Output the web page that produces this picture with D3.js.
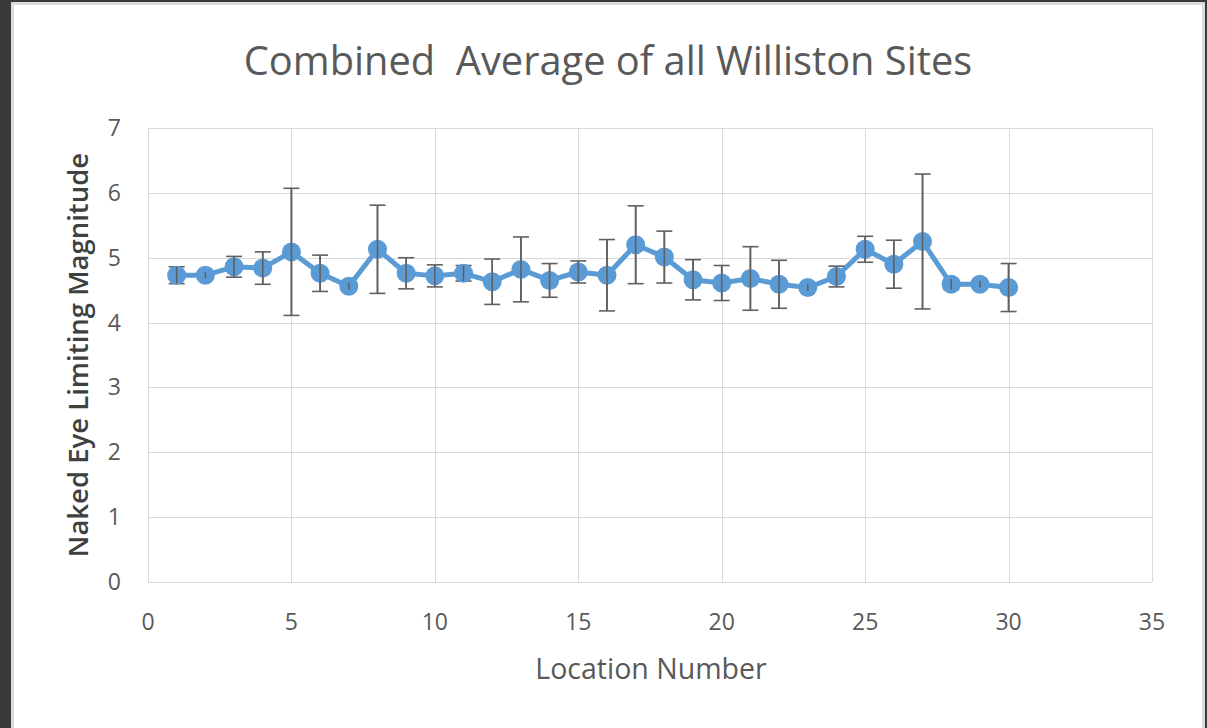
<!DOCTYPE html>
<html>
<head>
<meta charset="utf-8">
<script src="https://cdn.jsdelivr.net/npm/d3@7"></script>
<style>
  html, body {
    margin: 0;
    padding: 0;
    background: #3a3a3a;
  }
  #chart {
    display: block;
  }
  .grid line {
    stroke: #d9d9d9;
    stroke-width: 1px;
  }
  .tick-label {
    font-family: "Open Sans", sans-serif;
    font-size: 23px;
    fill: #595959;
  }
  .title {
    font-family: "Open Sans", sans-serif;
    font-size: 39.8px;
    fill: #595959;
  }
  .axis-title {
    font-family: "Open Sans", sans-serif;
    font-size: 28.5px;
    fill: #595959;
  }
  .axis-title.y {
    font-size: 27.5px;
    font-weight: 600;
    fill: #404040;
  }
  .series path {
    fill: none;
    stroke: #5b9bd5;
    stroke-width: 5px;
    stroke-linejoin: round;
  }
  .series circle {
    fill: #5b9bd5;
  }
  .errors line {
    stroke: #606060;
    stroke-width: 1.6px;
  }
</style>
</head>
<body>
<svg id="chart" width="1207" height="728"></svg>
<script>
// location numbers, averages and +/- error
var locations = [1, 2, 3, 4, 5, 6, 7, 8, 9, 10,
                 11, 12, 13, 14, 15, 16, 17, 18, 19, 20,
                 21, 22, 23, 24, 25, 26, 27, 28, 29, 30];
var magnitudes = [4.73, 4.73, 4.86, 4.84, 5.09, 4.76, 4.56, 5.13, 4.76, 4.72,
                  4.76, 4.63, 4.82, 4.65, 4.78, 4.73, 5.20, 5.01, 4.66, 4.61,
                  4.68, 4.59, 4.54, 4.71, 5.13, 4.90, 5.25, 4.59, 4.59, 4.54];
var errors = [0.13, 0.05, 0.16, 0.25, 0.98, 0.28, 0.05, 0.68, 0.24, 0.17,
              0.12, 0.35, 0.50, 0.26, 0.17, 0.55, 0.60, 0.40, 0.31, 0.27,
              0.49, 0.37, 0.05, 0.16, 0.20, 0.37, 1.04, 0.08, 0.05, 0.37];

var xTicks = [0, 5, 10, 15, 20, 25, 30, 35];
var yTicks = [0, 1, 2, 3, 4, 5, 6, 7];

var titleText = "Combined  Average of all Williston Sites";
var xTitle = "Location Number";
var yTitle = "Naked Eye Limiting Magnitude";

var svg = d3.select("#chart");

// white chart panel inside dark frame
svg.append("rect")
    .attr("x", 12.5).attr("y", 3.5)
    .attr("width", 1191).attr("height", 730)
    .attr("fill", "#ffffff")
    .attr("stroke", "#dcdcdc")
    .attr("stroke-width", 3);

var plot = {left: 148, right: 1152, top: 128, bottom: 582};

var x = d3.scaleLinear().domain([0, 35]).range([plot.left, plot.right]);
var y = d3.scaleLinear().domain([0, 7]).range([plot.bottom, plot.top]);

var grid = svg.append("g").attr("class", "grid");

grid.selectAll(".gx")
    .data(xTicks)
  .enter().append("line")
    .attr("x1", function(d) { return Math.round(x(d)) + 0.5; })
    .attr("x2", function(d) { return Math.round(x(d)) + 0.5; })
    .attr("y1", plot.top)
    .attr("y2", plot.bottom);

grid.selectAll(".gy")
    .data(yTicks)
  .enter().append("line")
    .attr("x1", plot.left)
    .attr("x2", plot.right)
    .attr("y1", function(d) { return Math.round(y(d)) + 0.5; })
    .attr("y2", function(d) { return Math.round(y(d)) + 0.5; });

// tick labels
svg.append("g").selectAll("text")
    .data(yTicks)
  .enter().append("text")
    .attr("class", "tick-label")
    .attr("x", 121)
    .attr("y", function(d) { return y(d); })
    .attr("dy", "0.35em")
    .attr("text-anchor", "end")
    .text(function(d) { return d; });

svg.append("g").selectAll("text")
    .data(xTicks)
  .enter().append("text")
    .attr("class", "tick-label")
    .attr("x", function(d) { return x(d); })
    .attr("y", 622)
    .attr("dy", "0.35em")
    .attr("text-anchor", "middle")
    .text(function(d) { return d; });

// titles
svg.append("text")
    .attr("class", "title")
    .attr("x", 608)
    .attr("y", 75)
    .attr("text-anchor", "middle")
    .style("white-space", "pre")
    .text(titleText);

svg.append("text")
    .attr("class", "axis-title")
    .attr("x", 651)
    .attr("y", 679)
    .attr("text-anchor", "middle")
    .text(xTitle);

svg.append("text")
    .attr("class", "axis-title y")
    .attr("transform", "translate(88," + 355 + ") rotate(-90)")
    .attr("text-anchor", "middle")
    .text(yTitle);

// series
var points = locations.map(function(d, i) {
  return {loc: d, mag: magnitudes[i], err: errors[i]};
});

var series = svg.append("g").attr("class", "series");

series.append("path")
    .datum(points)
    .attr("d", d3.line()
        .x(function(d) { return x(d.loc); })
        .y(function(d) { return y(d.mag); }));

var errs = svg.append("g").attr("class", "errors");
var cap = 8;

points.forEach(function(d) {
  var cx = x(d.loc), hi = y(d.mag + d.err), lo = y(d.mag - d.err);
  errs.append("line").attr("x1", cx).attr("x2", cx).attr("y1", hi).attr("y2", lo);
  errs.append("line").attr("x1", cx - cap).attr("x2", cx + cap).attr("y1", hi).attr("y2", hi);
  errs.append("line").attr("x1", cx - cap).attr("x2", cx + cap).attr("y1", lo).attr("y2", lo);
});

var marks = svg.append("g").attr("class", "series");
marks.selectAll("circle")
    .data(points)
  .enter().append("circle")
    .attr("cx", function(d) { return x(d.loc); })
    .attr("cy", function(d) { return y(d.mag); })
    .attr("r", 9.5);

// the stems show through the markers in the original
var errsTop = svg.append("g").attr("class", "errors");
points.forEach(function(d) {
  var cx = x(d.loc);
  errsTop.append("line")
      .attr("x1", cx).attr("x2", cx)
      .attr("y1", y(d.mag + d.err)).attr("y2", y(d.mag - d.err));
});
</script>
</body>
</html>
